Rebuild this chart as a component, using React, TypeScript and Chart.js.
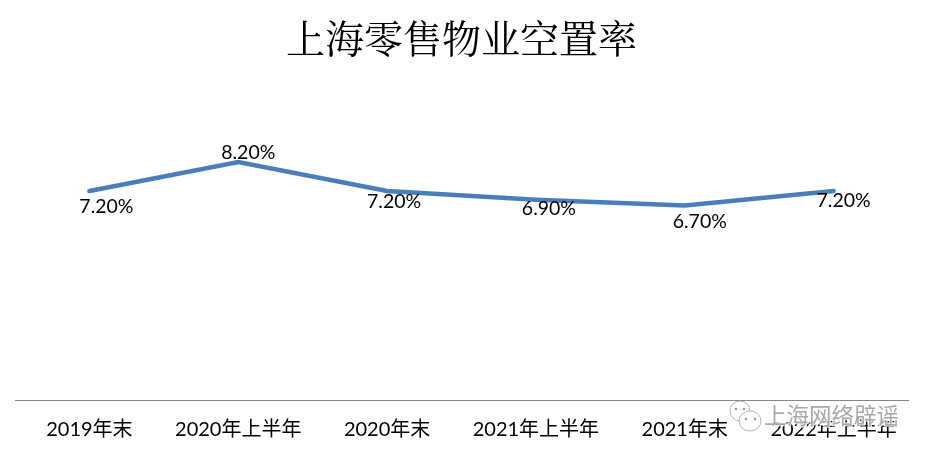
import React, { useEffect, useRef } from "react";
import { Chart, registerables } from "chart.js";

Chart.register(...registerables);

const titleText = "上海零售物业空置率";
const categories = ["2019年末", "2020年上半年", "2020年末", "2021年上半年", "2021年末", "2022年上半年"];
const vacancy = [7.2, 8.2, 7.2, 6.9, 6.7, 7.2];
const labelShiftX = [17, 10, 7, 13, 15, 10];
const labelShiftY = [16, -9, 11, 9, 16, 10];
const watermark = "上海网络辟谣";

const valueLabels = {
  id: "valueLabels",
  afterDatasetsDraw(chart: any) {
    const { ctx } = chart;
    const pts = chart.getDatasetMeta(0).data;
    ctx.save();
    ctx.font = "19.5px Lato, 'Noto Sans CJK SC'";
    ctx.fillStyle = "#000";
    ctx.textAlign = "center";
    ctx.textBaseline = "middle";
    pts.forEach((p: any, i: number) => {
      ctx.fillText(vacancy[i].toFixed(2) + "%", p.x + labelShiftX[i], p.y + labelShiftY[i]);
    });
    ctx.restore();
  },
};

const watermarkPlugin = {
  id: "watermarkPlugin",
  afterDraw(chart: any) {
    const { ctx } = chart;
    ctx.save();
    ctx.strokeStyle = "#b5b5b5";
    ctx.lineWidth = 1;
    ctx.fillStyle = "rgba(255,255,255,0.85)";
    ctx.beginPath();
    ctx.ellipse(740, 411, 10, 10, 0, 0, Math.PI * 2);
    ctx.fill();
    ctx.stroke();
    ctx.beginPath();
    ctx.ellipse(750, 421, 11, 10, 0, 0, Math.PI * 2);
    ctx.fill();
    ctx.stroke();
    ctx.fillStyle = "#9a9a9a";
    [[736, 409], [744, 409], [746, 419], [755, 419]].forEach(([x, y]) => {
      ctx.beginPath();
      ctx.arc(x, y, 1.3, 0, Math.PI * 2);
      ctx.fill();
    });
    ctx.font = "22.5px 'Noto Sans CJK SC'";
    ctx.textAlign = "left";
    ctx.textBaseline = "middle";
    ctx.lineWidth = 2.5;
    ctx.strokeStyle = "rgba(255,255,255,0.8)";
    ctx.strokeText(watermark, 764, 415);
    ctx.fillStyle = "#a8a8a8";
    ctx.fillText(watermark, 764, 415);
    ctx.restore();
  },
};

export default function App() {
  const ref = useRef<HTMLCanvasElement>(null);
  useEffect(() => {
    document.body.style.margin = "0";
    const chart = new Chart(ref.current!, {
      type: "line",
      data: {
        labels: categories,
        datasets: [
          {
            data: vacancy,
            borderColor: "#4a7ebb",
            borderWidth: 4.5,
            pointRadius: 0,
            tension: 0,
            borderCapStyle: "round",
            fill: false,
          },
        ],
      },
      options: {
        animation: false,
        responsive: false,
        layout: { padding: { left: 15, right: 20, top: 0, bottom: 0 } },
        plugins: {
          legend: { display: false },
          tooltip: { enabled: false },
          title: {
            display: true,
            text: titleText,
            color: "#000",
            font: { family: "'Noto Serif CJK SC', 'Noto Sans CJK SC'", size: 39, weight: "normal" },
            padding: { top: 15, bottom: 48 },
          },
        },
        scales: {
          x: {
            offset: true,
            grid: { display: false },
            border: { color: "#868686", width: 1 },
            ticks: {
              color: "#000",
              autoSkip: false,
              maxRotation: 0,
              padding: 10,
              font: { family: "Lato, 'Noto Sans CJK SC'", size: 20 },
            },
            afterFit(scale: any) {
              scale.height = 55;
            },
          },
          y: { display: false, min: 0, max: 10 },
        },
      },
      plugins: [valueLabels, watermarkPlugin],
    } as any);
    return () => chart.destroy();
  }, []);
  return <canvas ref={ref} width={928} height={455} style={{ display: "block" }} />;
}
